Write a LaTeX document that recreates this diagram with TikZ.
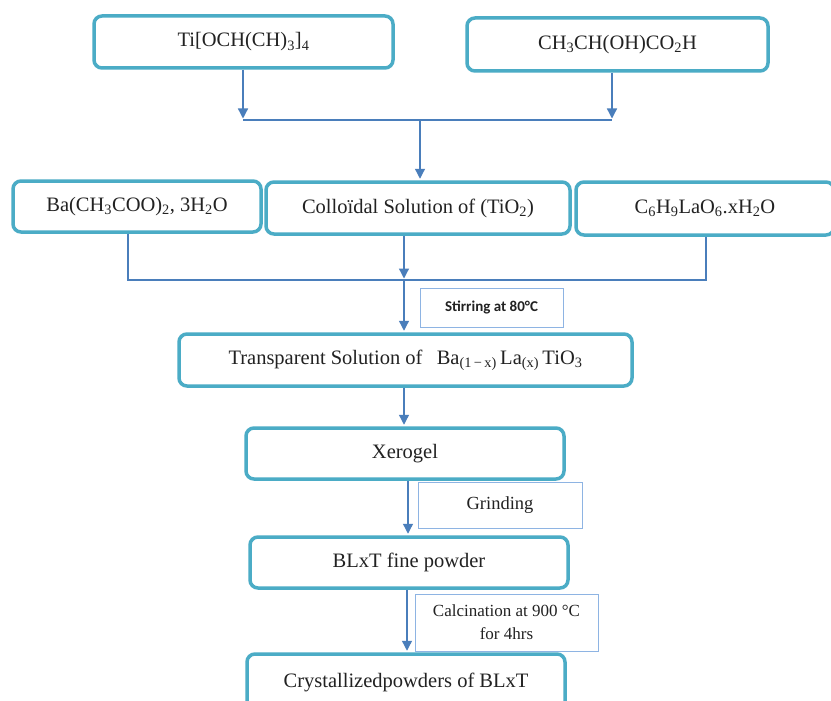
\documentclass[tikz,border=0pt]{standalone}
\usepackage{fontspec}
\setmainfont{Liberation Serif}
\newfontfamily\carlito{Carlito}
\usetikzlibrary{arrows.meta,calc}
\definecolor{boxteal}{HTML}{4BACC6}
\definecolor{arrowblue}{HTML}{4A7EBB}
\definecolor{thinblue}{HTML}{8EB4E3}
\definecolor{inkgray}{HTML}{222222}
\newcommand{\sbs}[1]{\textsubscript{#1}}
\begin{document}
\begin{tikzpicture}[x=1pt,y=-1pt,
  mainbox/.style={draw=boxteal, line width=3.5pt, rounded corners=8pt, fill=white,
    text=inkgray, font=\fontsize{20.5}{24}\selectfont, inner sep=0pt, anchor=center},
  notebox/.style={draw=thinblue, line width=1pt, fill=white, inner sep=0pt,
    text=inkgray, align=center, anchor=center},
  conn/.style={draw=arrowblue, line width=1.3pt},
  arr/.style={conn, -{Triangle[length=10pt,width=10pt]}, shorten >=1.5pt}]
\fill[white] (0,0) rectangle (831,701);
\useasboundingbox (0,0) rectangle (831,701);

% main boxes
\node[mainbox, minimum width=299pt, minimum height=52pt] (ti) at (243.5,42)
  {Ti[OCH(CH)\sbs{3}]\sbs{4}};
\node[mainbox, minimum width=301pt, minimum height=53pt] (lac) at (617.5,44.5)
  {CH\sbs{3}CH(OH)CO\sbs{2}H};
\node[mainbox, minimum width=248pt, minimum height=51pt] (ba) at (137,206.5)
  {Ba(CH\sbs{3}COO)\sbs{2}, 3H\sbs{2}O};
\node[mainbox, minimum width=304pt, minimum height=52pt] (col) at (418,208)
  {Colloïdal Solution of (TiO\sbs{2})};
\node[mainbox, minimum width=258pt, minimum height=53pt] (lan) at (705,208.5)
  {C\sbs{6}H\sbs{9}LaO\sbs{6}.xH\sbs{2}O};
\node[mainbox, minimum width=453pt, minimum height=52pt] (trans) at (405.5,360)
  {Transparent Solution of\;\, Ba\sbs{(1\,−\,x)}\,La\sbs{(x)}\,TiO\sbs{3}};
\node[mainbox, minimum width=318pt, minimum height=51pt] (xero) at (405,453.5)
  {Xerogel};
\node[mainbox, minimum width=318pt, minimum height=51pt] (blxt) at (409,562.5)
  {BLxT fine powder};
\node[mainbox, minimum width=318pt, minimum height=56pt] (cryst) at (406,682)
  {Crystallizedpowders of BLxT};

% process notes
\node[notebox, minimum width=143pt, minimum height=39pt,
  font=\carlito\bfseries\fontsize{15}{17}\selectfont] (stir) at (491.5,307.5)
  {Stirring at 80°C};
\node[notebox, minimum width=164pt, minimum height=46pt,
  font=\fontsize{18.5}{21}\selectfont] (grind) at (500,505)
  {Grinding};
\node[notebox, minimum width=183pt, minimum height=57pt,
  font=\fontsize{17}{23}\selectfont] (calc) at (506.5,622.5)
  {Calcination at 900 °C\\for 4hrs};

% connectors
\coordinate (j1) at (243,120);
\coordinate (j2) at (612,120);
\coordinate (j3) at (420,120);
\draw[arr] (ti.south -| j1) -- (j1);
\draw[arr] (lac.south -| j2) -- (j2);
\draw[conn] (j1) -- (j2);
\draw[arr] (j3) -- (col.north -| j3);

\coordinate (k1) at (128,280);
\coordinate (k2) at (706,280);
\coordinate (k3) at (404,280);
\draw[conn] (ba.south -| k1) -- (k1) -- (k2) -- (lan.south -| k2);
\draw[arr] (col.south -| k3) -- (k3);
\draw[arr] (k3) -- (trans.north -| k3);
\draw[arr] (trans.south -| k3) -- (xero.north -| k3);
\draw[arr] ([xshift=3pt]xero.south) -- ([xshift=3pt]xero.south |- blxt.north);
\draw[arr] ([xshift=-2pt]blxt.south) -- ([xshift=-2pt]blxt.south |- cryst.north);
\end{tikzpicture}
\end{document}
